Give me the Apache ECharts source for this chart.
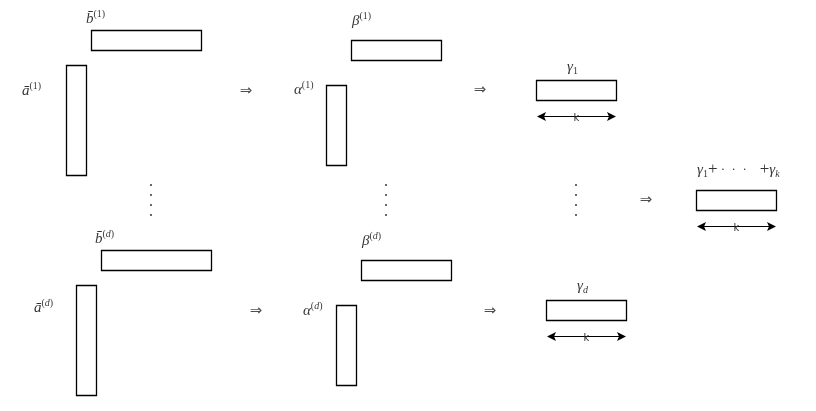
<!DOCTYPE html>
<html>
<head>
<meta charset="utf-8">
<script src="https://cdn.jsdelivr.net/npm/echarts@6/dist/echarts.min.js"></script>
<style>
html,body{margin:0;padding:0;background:#fff;}
#main{width:816px;height:411px;}
</style>
</head>
<body>
<div id="main"></div>
<script>
// boxes: [x0, y0, x1, y1] in diagram units (same as pixels, y goes down)
var boxes = [
    [91, 30, 201, 50], [66, 65, 86, 175],
    [351, 40, 441, 60], [326, 85, 346, 165],
    [536, 80, 616, 100],
    [696, 190, 776, 210],
    [101, 250, 211, 270], [76, 285, 96, 395],
    [361, 260, 451, 280], [336, 305, 356, 385],
    [546, 300, 626, 320]
];
// symbol labels: anchor (left, middle) and rich text
var labelPos = [
    [86, 19], [22, 91], [352, 21], [294, 90], [567, 67],
    [697, 170], [95, 239], [34, 308], [362, 241], [303, 311], [577, 286]
];
var labelText = [
    '{m|b\u0304}{s|(1)}', '{m|ā}{s|(1)}', '{m|β}{s|(1)}', '{m|α}{s|(1)}', '{m|γ}{b|1}',
    '{m|γ}{b|1}{r|+}{d| ·  ·  ·    }{r|+}{m|γ}{bi|k}',
    '{m|b\u0304}{s|(}{si|d}{s|)}', '{m|ā}{s|(}{si|d}{s|)}', '{m|β}{s|(}{si|d}{s|)}', '{m|α}{s|(}{si|d}{s|)}',
    '{m|γ}{bi|d}'
];
// "implies" arrows
var impliesPos = [[246, 91], [480, 90], [646, 200], [256, 311], [490, 311]];
// vertical dots
var dotCols = [151, 386, 576];
var dotRows = [185, 195, 205, 215];
// double arrows of width k: [x0, x1, y]
var spans = [[537, 616, 116], [697, 776, 226], [547, 626, 336]];

var dots = [];
for (var i = 0; i < dotCols.length; i++) {
    for (var j = 0; j < dotRows.length; j++) {
        dots.push([dotCols[i], dotRows[j]]);
    }
}
var labels = [];
for (var i = 0; i < labelPos.length; i++) {
    labels.push({value: labelPos[i], label: {formatter: labelText[i]}});
}

var serif = '"Liberation Serif", "DejaVu Serif", serif';
var chart = echarts.init(document.getElementById('main'));
var option = {
    backgroundColor: '#fff',
    animation: false,
    grid: {left: 0, right: 0, top: 0, bottom: 0},
    xAxis: {type: 'value', min: 0, max: 816, show: false},
    yAxis: {type: 'value', min: 0, max: 411, inverse: true, show: false},
    series: [{
        // rectangles
        type: 'custom',
        data: boxes,
        encode: {x: [0, 2], y: [1, 3]},
        renderItem: function (params, api) {
            var p0 = api.coord([api.value(0), api.value(1)]);
            var p1 = api.coord([api.value(2), api.value(3)]);
            return {
                type: 'rect',
                shape: {x: p0[0] + 0.5, y: p0[1] + 0.5, width: p1[0] - p0[0], height: p1[1] - p0[1]},
                style: {fill: '#fff', stroke: '#000', lineWidth: 1.3}
            };
        }
    }, {
        // double-headed arrows with k
        type: 'custom',
        data: spans,
        encode: {x: [0, 1], y: 2},
        renderItem: function (params, api) {
            var a = api.coord([api.value(0), api.value(2)]);
            var b = api.coord([api.value(1), api.value(2)]);
            var y = a[1] + 0.5;
            return {
                type: 'group',
                children: [{
                    type: 'line',
                    shape: {x1: a[0] + 4, y1: y, x2: b[0] - 4, y2: y},
                    style: {stroke: '#000', lineWidth: 1}
                }, {
                    type: 'polygon',
                    shape: {points: [[a[0], y], [a[0] + 9, y - 4.5], [a[0] + 7, y], [a[0] + 9, y + 4.5]]},
                    style: {fill: '#000'}
                }, {
                    type: 'polygon',
                    shape: {points: [[b[0], y], [b[0] - 9, y - 4.5], [b[0] - 7, y], [b[0] - 9, y + 4.5]]},
                    style: {fill: '#000'}
                }, {
                    type: 'text',
                    x: (a[0] + b[0]) / 2,
                    y: y + 1.5,
                    style: {
                        text: 'k', fill: '#333', font: '10px "DejaVu Sans", sans-serif',
                        align: 'center', verticalAlign: 'middle'
                    }
                }]
            };
        }
    }, {
        // dots
        type: 'scatter',
        data: dots,
        symbol: 'rect',
        symbolSize: 2,
        itemStyle: {color: '#444'},
        silent: true
    }, {
        // implies arrows
        type: 'scatter',
        data: impliesPos,
        symbolSize: 0,
        silent: true,
        label: {
            show: true, position: 'inside', formatter: '⇒',
            color: '#222', fontSize: 15, fontFamily: '"DejaVu Sans", sans-serif'
        }
    }, {
        // math labels
        type: 'scatter',
        data: labels,
        symbolSize: 0,
        silent: true,
        label: {
            show: true,
            position: 'right',
            distance: 0,
            color: '#000',
            rich: {
                m: {fontFamily: serif, fontStyle: 'italic', fontSize: 15, lineHeight: 19, color: '#000'},
                r: {fontFamily: serif, fontSize: 17, lineHeight: 19, color: '#000'},
                d: {fontFamily: serif, fontSize: 13, lineHeight: 19, color: '#000'},
                s: {fontFamily: serif, fontSize: 10, lineHeight: 12, verticalAlign: 'top', color: '#000'},
                si: {fontFamily: serif, fontStyle: 'italic', fontSize: 10, lineHeight: 12, verticalAlign: 'top', color: '#000'},
                b: {fontFamily: serif, fontSize: 10, lineHeight: 12, verticalAlign: 'bottom', color: '#000'},
                bi: {fontFamily: serif, fontStyle: 'italic', fontSize: 10, lineHeight: 12, verticalAlign: 'bottom', color: '#000'}
            }
        }
    }]
};
chart.setOption(option);
</script>
</body>
</html>
